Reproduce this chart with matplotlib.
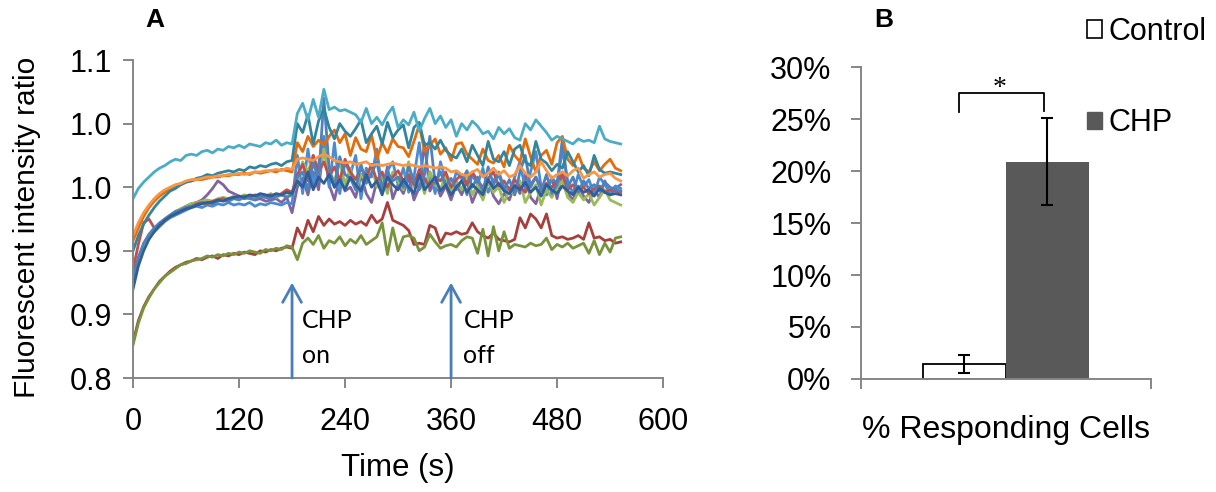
import numpy as np
import matplotlib
matplotlib.use('Agg')
import matplotlib.pyplot as plt
from matplotlib.patches import Patch

plt.rcParams['font.family'] = ['Liberation Sans', 'DejaVu Sans']

# ---------------- Panel A data (ratio x 1000, sampled every 6 s) ----------------
time_s = np.arange(0, 558, 6)

cyan = [941, 949, 954, 958, 962, 965, 967, 970, 972, 971,
        975, 976, 975, 978, 979, 977, 980, 979, 982, 981,
        983, 981, 984, 983, 982, 985, 984, 987, 983, 985, 984,
        1008, 1016, 1003, 1019, 1005, 1027, 1011, 1013, 1010, 1011,
        1009, 1007, 1001, 1012, 1000, 1005, 999, 1007, 1013, 997,
        1003, 999, 1009, 994, 1004, 1012, 1000, 1006, 997, 1003,
        990, 1000, 995, 1002, 998, 992, 994, 988, 997, 992,
        996, 989, 987, 1000, 995, 1003, 998, 993, 987, 990,
        988, 986, 984, 988, 986, 987, 985, 998, 988, 986,
        985, 984]

teal = [900, 912, 921, 928, 934, 939, 943, 947, 949, 952,
        954, 955, 957, 958, 960, 959, 961, 962, 963, 962,
        964, 963, 966, 965, 967, 966, 968, 969, 967, 970, 971,
        1000, 993, 1007, 984, 1002, 1012, 997, 988, 1000, 994,
        990, 996, 1003, 985, 992, 998, 984, 1001, 989, 995,
        999, 981, 997, 1001, 983, 985, 980, 987, 979, 975,
        973, 980, 970, 983, 975, 967, 986, 972, 970, 978,
        967, 980, 983, 970, 967, 986, 972, 969, 963, 968,
        965, 978, 970, 962, 967, 959, 975, 964, 961, 962,
        961, 960]

orange = [912, 922, 930, 936, 941, 945, 948, 950, 952, 953,
          955, 956, 956, 957, 958, 958, 959, 959, 960, 960,
          961, 960, 961, 962, 962, 963, 963, 964, 963, 965, 964,
          972, 973, 972, 971, 974, 976, 974, 971, 970, 969,
          970, 968, 969, 970, 967, 968, 967, 968, 969, 968,
          967, 968, 967, 966, 967, 966, 965, 966, 965, 962,
          963, 960, 959, 962, 964, 958, 961, 965, 960, 963,
          958, 960, 967, 961, 958, 962, 970, 963, 957, 960,
          962, 959, 963, 965, 957, 960, 962, 958, 960, 961,
          957, 955]

dark_orange = [908, 918, 927, 934, 939, 943, 946, 949, 951, 952,
               954, 955, 956, 956, 957, 958, 958, 959, 959, 960,
               960, 961, 960, 962, 961, 962, 963, 962, 964, 963, 962,
               985, 978, 990, 982, 987, 983, 990, 995, 985, 992,
               975, 989, 980, 978, 991, 972, 985, 977, 988, 982,
               981, 974, 986, 999, 978, 983, 988, 976, 981, 971,
               984, 985, 976, 972, 968, 980, 971, 969, 975, 966,
               983, 975, 970, 988, 974, 962, 975, 979, 968, 985,
               990, 972, 967, 976, 965, 962, 970, 963, 968, 972,
               965, 963]

blue = [878, 895, 906, 913, 918, 922, 925, 928, 931, 932,
        934, 935, 936, 937, 938, 937, 939, 940, 939, 941,
        940, 942, 941, 940, 943, 942, 941, 943, 944, 942, 944,
        958, 962, 948, 970, 955, 1020, 965, 950, 974, 960,
        957, 948, 968, 953, 961, 970, 949, 962, 955, 958,
        950, 966, 955, 948, 960, 990, 953, 962, 951, 957,
        948, 955, 963, 950, 958, 946, 966, 952, 960, 948,
        956, 944, 962, 975, 950, 958, 947, 960, 945, 952,
        988, 950, 958, 946, 955, 949, 952, 947, 954, 950,
        948, 947]

light_blue = [872, 890, 902, 910, 915, 919, 923, 926, 928, 930,
              932, 934, 935, 934, 936, 935, 937, 936, 938, 936,
              937, 936, 938, 935, 937, 936, 938, 937, 936, 938, 937,
              975, 945, 980, 952, 968, 990, 950, 985, 945, 970,
              960, 975, 941, 965, 958, 980, 947, 963, 970, 952,
              965, 946, 958, 985, 950, 962, 945, 970, 955, 948,
              962, 957, 944, 960, 952, 965, 946, 955, 962, 950,
              945, 958, 970, 948, 962, 978, 950, 944, 958, 952,
              980, 955, 945, 960, 950, 956, 944, 958, 952, 946,
              951, 949]

purple = [882, 893, 903, 910, 916, 921, 925, 928, 930, 933,
          935, 937, 938, 940, 944, 949, 955, 952, 947, 945,
          943, 941, 942, 940, 941, 939, 940, 941, 938, 942, 930,
          950, 957, 944, 962, 948, 985, 952, 940, 958, 947,
          950, 942, 960, 945, 938, 955, 948, 966, 941, 952,
          945, 958, 940, 950, 985, 947, 955, 943, 951, 940,
          952, 944, 955, 938, 948, 941, 956, 943, 937, 945,
          940, 952, 945, 960, 942, 937, 950, 944, 958, 941,
          962, 945, 940, 951, 943, 938, 948, 942, 955, 944,
          949, 952]

red = [885, 905, 922, 925, 918, 920, 924, 927, 930, 932,
       934, 935, 937, 938, 937, 939, 940, 941, 940, 942,
       941, 943, 942, 944, 943, 942, 944, 943, 945, 948, 946,
       960, 968, 955, 975, 962, 970, 958, 966, 955, 972,
       962, 956, 965, 958, 968, 955, 962, 950, 958, 963,
       955, 960, 952, 964, 957, 950, 958, 955, 962, 950,
       956, 960, 952, 962, 955, 950, 957, 962, 951, 955,
       948, 956, 950, 946, 952, 958, 949, 953, 950, 955,
       960, 948, 952, 947, 950, 945, 949, 951, 946, 948,
       947, 946]

green = [875, 892, 903, 911, 917, 921, 925, 928, 931, 933,
         935, 937, 938, 939, 940, 939, 941, 942, 941, 943,
         942, 944, 943, 941, 944, 943, 945, 942, 944, 943, 945,
         955, 970, 962, 975, 958, 980, 962, 955, 970, 952,
         965, 948, 960, 955, 968, 950, 958, 945, 962, 955,
         948, 970, 950, 958, 945, 962, 952, 948, 960, 945,
         955, 948, 960, 944, 952, 940, 955, 946, 950, 938,
         948, 944, 955, 938, 946, 952, 936, 948, 942, 950,
         955, 942, 938, 946, 940, 945, 936, 942, 948, 940,
         938, 936]

dark_blue = [870, 888, 900, 909, 915, 920, 924, 927, 929, 931,
             933, 934, 936, 937, 938, 938, 940, 939, 941, 942,
             943, 942, 944, 943, 945, 944, 943, 945, 944, 946, 945,
             955, 950, 962, 948, 958, 953, 960, 950, 956, 948,
             958, 952, 947, 960, 950, 955, 944, 958, 952, 948,
             956, 950, 945, 960, 948, 953, 958, 947, 952, 944,
             950, 955, 946, 952, 948, 944, 956, 949, 953, 947,
             945, 951, 948, 954, 946, 950, 943, 952, 948, 945,
             951, 947, 944, 950, 946, 948, 943, 949, 946, 944,
             945, 944]

dark_red = [828, 845, 856, 864, 870, 876, 880, 884, 887, 889,
            891, 892, 894, 893, 895, 896, 894, 897, 896, 898,
            897, 899, 898, 897, 900, 899, 901, 900, 902, 903, 902,
            918, 910, 924, 915, 927, 920, 925, 921, 923, 920,
            924, 921, 923, 920, 928, 922, 925, 938, 924, 922,
            920, 916, 905, 906, 905, 920, 918, 906, 914, 913,
            915, 913, 914, 922, 915, 912, 910, 914, 909, 908,
            907, 909, 926, 918, 929, 925, 918, 929, 912, 910,
            911, 909, 910, 912, 909, 922, 910, 911, 908, 909,
            906, 907]

olive = [826, 843, 855, 863, 870, 875, 880, 883, 886, 889,
         890, 892, 893, 894, 896, 895, 897, 896, 898, 897,
         899, 898, 900, 899, 898, 901, 900, 902, 901, 904, 903,
         893, 906, 910, 905, 912, 902, 908, 906, 911, 904,
         909, 906, 912, 905, 908, 911, 922, 897, 918, 900,
         911, 912, 910, 900, 903, 913, 907, 902, 904, 905,
         903, 908, 911, 910, 898, 917, 896, 919, 900, 915,
         902, 905, 904, 903, 906, 904, 905, 910, 901, 905,
         903, 906, 902, 904, 906, 898, 908, 897, 906, 899,
         910, 911]

a_x_ticks = [0, 120, 240, 360, 480, 600]
a_y_ticks = [0.80, 0.85, 0.90, 0.95, 1.00, 1.05]
a_y_tick_labels = ['0.8', '0.9', '0.9', '1.0', '1.0', '1.1']
chp_on_time = 180
chp_off_time = 360

# ---------------- Panel B data ----------------
groups = ['Control', 'CHP']
responding_pct = [1.45, 20.9]
responding_err = [0.9, 4.2]
b_y_ticks = [0, 5, 10, 15, 20, 25, 30]

# ---------------- Figure ----------------
fig = plt.figure(figsize=(12.16, 4.92), dpi=100)
axA = fig.add_axes([0.1094, 0.2317, 0.4359, 0.6463])
axB = fig.add_axes([0.7078, 0.2297, 0.2387, 0.634])

spine_col = '#868686'
tick_fs = 22

series = [
    (purple, '#8064A2'),
    (light_blue, '#4A8BD6'),
    (green, '#9BBB59'),
    (red, '#C0504D'),
    (blue, '#4F81BD'),
    (dark_blue, '#2F5F98'),
    (dark_orange, '#E46C0A'),
    (teal, '#31859C'),
    (cyan, '#4BACC6'),
    (orange, '#F79646'),
    (dark_red, '#A5403D'),
    (olive, '#77933C'),
]
for vals, col in series:
    v = np.array(vals) / 1000.0
    axA.plot(time_s[:len(v)], v, color=col, lw=2.0, solid_joinstyle='round')

axA.set_xlim(0, 600)
axA.set_ylim(0.80, 1.05)
axA.set_xticks(a_x_ticks)
axA.set_xticklabels([str(t) for t in a_x_ticks])
axA.set_yticks(a_y_ticks)
axA.set_yticklabels(a_y_tick_labels)

for ax in (axA, axB):
    for s in ('top', 'right'):
        ax.spines[s].set_visible(False)
    for s in ('left', 'bottom'):
        ax.spines[s].set_color(spine_col)
        ax.spines[s].set_linewidth(1.4)
    ax.tick_params(axis='both', direction='out', length=7, width=1.4,
                   color=spine_col, labelsize=tick_fs, labelcolor='black')
axA.tick_params(axis='x', pad=14)
axA.tick_params(axis='y', pad=8)

# arrows and annotations
arrow_col = '#4A7EBB'
for t0 in (chp_on_time, chp_off_time):
    axA.annotate('', xy=(t0, 0.875), xytext=(t0, 0.80),
                 arrowprops=dict(arrowstyle='->,head_length=0.45,head_width=0.25',
                                 color=arrow_col, lw=2, mutation_scale=27,
                                 shrinkA=0, shrinkB=0), annotation_clip=False)
ann_font = dict(family=['Lato', 'DejaVu Sans'], fontsize=18, color='black', va='baseline', ha='left')
axA.text(191, 0.8393, 'CHP', **ann_font)
axA.text(191, 0.8120, 'on', **ann_font)
axA.text(374, 0.8393, 'CHP', **ann_font)
axA.text(374, 0.8120, 'off', **ann_font)

fig.text(27 / 1216, 1 - 227 / 492, 'Fluorescent intensity ratio', rotation=90,
         ha='center', va='center', fontsize=21.5)
fig.text(398 / 1216, 1 - 468 / 492, 'Time (s)', ha='center', va='center', fontsize=22.5)
fig.text(155 / 1216, 1 - 20 / 492, 'A', ha='center', va='center', fontsize=19, fontweight='bold')
fig.text(884 / 1216, 1 - 20 / 492, 'B', ha='center', va='center', fontsize=19, fontweight='bold')

# ---------------- Panel B ----------------
bw = 0.286
xpos = [-bw / 2, bw / 2]
axB.bar(xpos[0], responding_pct[0], width=bw, color='white', edgecolor='black', lw=1.3)
axB.bar(xpos[1], responding_pct[1], width=bw, color='#595959', edgecolor='#595959', lw=0)
axB.errorbar(xpos, responding_pct, yerr=responding_err, fmt='none', ecolor='black',
             elinewidth=1.5, capsize=4.5, capthick=1.5)
axB.set_xlim(-0.5, 0.5)
axB.set_ylim(0, 30)
axB.set_yticks(b_y_ticks)
axB.set_yticklabels([f'{v}%' for v in b_y_ticks])
axB.set_xticks([-0.5, 0.5])
axB.set_xticklabels(['', ''])
axB.tick_params(axis='y', pad=14)
axB.text(0.5, -0.165, '% Responding Cells', transform=axB.transAxes,
         ha='center', va='center', fontsize=23)

# significance bracket
bx0, bx1 = -0.16, 0.132
axB.plot([bx0, bx0, bx1, bx1], [25.7, 27.5, 27.5, 25.8], color='black', lw=1.3, clip_on=False)
axB.text(-0.02, 27.9, '*', family=['Liberation Serif', 'DejaVu Serif'], fontsize=20,
         ha='center', va='center')

handles = [Patch(facecolor='white', edgecolor='black', lw=1.2),
           Patch(facecolor='#595959', edgecolor='#595959')]
fig.legend(handles, groups, loc='upper left', bbox_to_anchor=(1087 / 1216, 1 - 17 / 492),
           frameon=False, fontsize=22, handlelength=0.5, handleheight=0.5,
           handletextpad=0.2, labelspacing=2.0, borderpad=0, borderaxespad=0)

fig.savefig('out.png', dpi=100)
